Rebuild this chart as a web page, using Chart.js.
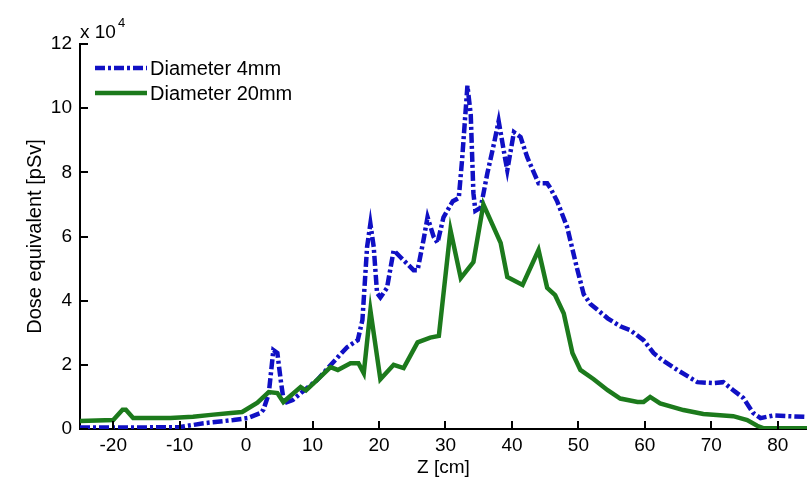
<!DOCTYPE html>
<html>
<head>
<meta charset="utf-8">
<title>Dose equivalent along Z</title>
<script src="https://cdn.jsdelivr.net/npm/chart.js@4.4.0/dist/chart.umd.min.js"></script>
<style>
  body { margin: 0; background: #fff; }
  canvas { display: block; }
</style>
</head>
<body>
<canvas id="doseChart" width="807" height="477"></canvas>
<script>
// tick labels
const zTicks = [-20, -10, 0, 10, 20, 30, 40, 50, 60, 70, 80];
const doseTicks = [0, 2, 4, 6, 8, 10, 12];

// Diameter 4mm (dose in units of 10^4 pSv)
const z4mm = [-25, -20, -15, -9.9, -6.4, -1.9, 0.2, 2.2, 2.6, 3.4, 4.1, 4.7, 5.2, 5.7, 7.0, 8.7, 10.7, 13.8, 15.2, 16.8,
  17.5, 18.2, 18.7, 19.2, 19.7, 20.2, 21.2, 22.2, 23.2, 25.2, 25.8, 26.7, 27.3, 28.2, 28.8, 29.7, 31.1, 32.0, 32.5, 33.3,
  33.8, 34.2, 34.5, 35.3, 36.3, 37.3, 38.0, 39.0, 39.3, 40.3, 41.3, 42.3, 44.0, 45.3, 45.8, 46.8, 48.3, 49.8, 50.8, 51.8,
  54.4, 56.3, 57.8, 59.8, 61.3, 62.6, 64.9, 67.9, 70.3, 71.8, 73.3, 74.8, 76.3, 77.4, 79.3, 85];
const dose4mm = [0.05, 0.05, 0.05, 0.06, 0.18, 0.28, 0.34, 0.5, 0.6, 1.1, 2.46, 2.37, 1.53, 0.8, 0.9, 1.2, 1.53, 2.24, 2.55, 2.77,
  3.4, 5.67, 6.4, 5.67, 4.24, 4.1, 4.4, 5.57, 5.36, 4.95, 4.95, 5.9, 6.6, 6.0, 5.8, 6.6, 7.1, 7.2, 8.4, 10.7,
  9.8, 7.35, 6.8, 6.9, 7.97, 8.9, 9.6, 8.4, 8.07, 9.25, 9.1, 8.47, 7.66, 7.66, 7.5, 7.1, 6.3, 5.0, 4.2, 3.9,
  3.45, 3.2, 3.08, 2.77, 2.37, 2.15, 1.84, 1.46, 1.43, 1.46, 1.21, 0.97, 0.5, 0.34, 0.42, 0.37];

// Diameter 20mm
const z20mm = [-25, -20, -18.6, -18.1, -17, -11.4, -8, -5.3, -2.3, -0.6, 1.7, 3.4, 4.7, 5.6, 8.2, 9.0, 10.7, 12.7, 13.8, 15.7,
  16.9, 17.7, 18.7, 20.2, 22.2, 23.7, 25.8, 27.7, 29.0, 30.75, 32.3, 34.2, 35.7, 37.0, 38.3, 39.3, 41.6, 44.0, 45.3, 46.5,
  47.8, 49.1, 50.3, 52.3, 54.4, 56.3, 58.9, 59.8, 60.8, 62.3, 65.8, 68.8, 73.3, 75.4, 76.9, 77.8, 85];
const dose20mm = [0.25, 0.28, 0.6, 0.6, 0.34, 0.34, 0.38, 0.44, 0.5, 0.53, 0.82, 1.15, 1.12, 0.84, 1.31, 1.2, 1.53, 1.93, 1.84, 2.05,
  2.05, 1.74, 3.7, 1.55, 2.0, 1.9, 2.7, 2.85, 2.9, 6.2, 4.7, 5.2, 7.0, 6.4, 5.8, 4.74, 4.49, 5.58, 4.4, 4.17,
  3.6, 2.37, 1.84, 1.55, 1.21, 0.95, 0.84, 0.84, 1.0, 0.8, 0.59, 0.47, 0.4, 0.28, 0.1, 0.03, 0.02];

const FONT = '"Liberation Sans", Arial, sans-serif';

const toPoints = (xs, ys) => xs.map((x, i) => ({ x: x, y: ys[i] }));

// exponent label, inward tick marks and the in-plot legend
const matlabFrame = {
    id: 'matlabFrame',
    afterDraw(chart) {
        const ctx = chart.ctx;
        const xs = chart.scales.x;
        const ys = chart.scales.y;
        const area = chart.chartArea;
        ctx.save();
        ctx.strokeStyle = '#000';
        ctx.lineWidth = 2;
        ctx.setLineDash([]);
        ctx.beginPath();
        for (const v of zTicks) {
            const px = Math.round(xs.getPixelForValue(v));
            ctx.moveTo(px, area.bottom + 1);
            ctx.lineTo(px, area.bottom - 8);
        }
        for (const v of doseTicks) {
            const py = Math.round(ys.getPixelForValue(v));
            ctx.moveTo(area.left - 1, py);
            ctx.lineTo(area.left + 8, py);
        }
        ctx.stroke();

        ctx.fillStyle = '#000';
        ctx.textAlign = 'left';
        ctx.textBaseline = 'alphabetic';
        ctx.font = '19px ' + FONT;
        ctx.fillText('x 10', 80, 38);
        ctx.font = '13px ' + FONT;
        ctx.fillText('4', 118, 27);

        ctx.font = '20px ' + FONT;
        ctx.textBaseline = 'middle';
        chart.data.datasets.forEach((ds, i) => {
            const ly = 68 + i * 25;
            ctx.strokeStyle = ds.borderColor;
            ctx.lineWidth = ds.borderWidth;
            ctx.setLineDash(ds.borderDash || []);
            ctx.beginPath();
            ctx.moveTo(95, ly);
            ctx.lineTo(147, ly);
            ctx.stroke();
            ctx.setLineDash([]);
            ctx.fillText(ds.label, 150, ly + 1);
        });
        ctx.restore();
    }
};

new Chart(document.getElementById('doseChart'), {
    type: 'line',
    data: {
        datasets: [
            {
                label: 'Diameter 4mm',
                data: toPoints(z4mm, dose4mm),
                borderColor: '#1010c4',
                borderWidth: 4.5,
                borderDash: [10, 3, 3, 3],
                pointRadius: 0,
                tension: 0,
                order: 2
            },
            {
                label: 'Diameter 20mm',
                data: toPoints(z20mm, dose20mm),
                borderColor: '#1c7a1c',
                borderWidth: 4.5,
                pointRadius: 0,
                tension: 0,
                order: 1
            }
        ]
    },
    options: {
        responsive: false,
        animation: false,
        devicePixelRatio: 1,
        layout: { padding: { top: 44, right: 0, left: 0, bottom: 0 } },
        plugins: {
            legend: { display: false },
            tooltip: { enabled: false }
        },
        scales: {
            x: {
                type: 'linear',
                min: -25,
                max: 84.4,
                afterBuildTicks: s => { s.ticks = zTicks.map(v => ({ value: v })); },
                afterFit: s => { s.height = 48; },
                grid: { display: false, drawTicks: false },
                border: { color: '#000', width: 2 },
                ticks: { color: '#000', font: { family: FONT, size: 19 }, padding: 5, maxRotation: 0 },
                title: {
                    display: true,
                    text: 'Z [cm]',
                    color: '#000',
                    font: { family: FONT, size: 19, lineHeight: 1 },
                    padding: { top: 0, bottom: 0 }
                }
            },
            y: {
                min: 0,
                max: 12,
                afterBuildTicks: s => { s.ticks = doseTicks.map(v => ({ value: v })); },
                afterFit: s => { s.width = 80; },
                grid: { display: false, drawTicks: false },
                border: { color: '#000', width: 2 },
                ticks: { color: '#000', font: { family: FONT, size: 19 }, padding: 8 },
                title: {
                    display: true,
                    text: 'Dose equivalent [pSv]',
                    color: '#000',
                    font: { family: FONT, size: 20 },
                    padding: { top: 23, bottom: 0 }
                }
            }
        }
    },
    plugins: [matlabFrame]
});
</script>
</body>
</html>
